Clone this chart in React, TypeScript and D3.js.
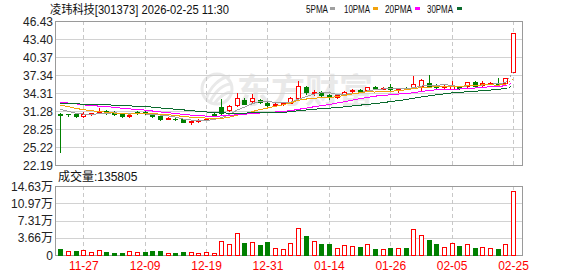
import React from "react";
import * as d3 from "d3";

// ---- data ----
const dates = [
  "11-24","11-25","11-26","11-27","11-28","12-01","12-02","12-03","12-04","12-05",
  "12-08","12-09","12-10","12-11","12-12","12-15","12-16","12-17","12-18","12-19",
  "12-22","12-23","12-24","12-25","12-26","12-29","12-30","12-31","01-05","01-06",
  "01-07","01-08","01-09","01-12","01-13","01-14","01-15","01-16","01-19","01-20",
  "01-21","01-22","01-23","01-26","01-27","01-28","01-29","01-30","02-02","02-03",
  "02-04","02-05","02-06","02-09","02-10","02-11","02-12","02-13","02-24","02-25",
];
const opens = [
  30.85,30.72,30.75,30.45,30.85,31.05,31.2,30.95,30.75,30.45,
  31.15,31.1,30.9,30.43,30.0,29.95,29.88,29.5,29.6,29.8,
  30.8,31.95,31.5,32.3,33.13,33.0,33.13,32.7,32.3,32.42,
  32.7,33.55,35.37,34.35,34.45,33.97,33.6,34.15,34.7,34.8,
  34.75,35.4,35.05,35.37,35.0,35.12,35.2,35.45,36.0,35.4,
  35.33,35.0,35.3,35.45,36.15,35.6,36.0,35.85,36.04,37.79,
];
const highs = [
  30.95,30.85,31.0,31.1,31.0,31.75,31.4,31.3,30.85,30.75,
  31.35,31.3,31.0,30.5,30.3,30.15,29.95,29.7,29.95,30.1,
  30.95,33.25,32.3,34.26,33.5,34.1,33.3,32.85,32.65,32.7,
  33.65,36.35,35.5,34.75,34.6,34.2,34.2,34.6,35.05,35.0,
  35.4,35.5,35.3,35.8,35.2,35.3,37.17,36.6,37.3,35.9,
  35.7,36.33,35.4,36.2,36.25,36.3,36.2,36.8,36.85,44.36,
];
const lows = [
  24.3,30.45,30.3,30.25,30.65,31.0,30.85,30.6,30.2,30.25,
  30.85,30.8,30.35,29.8,29.85,29.75,29.35,29.05,29.45,29.7,
  30.4,30.8,31.2,32.2,32.4,32.7,32.7,32.1,32.2,32.3,
  32.55,33.3,34.2,34.0,33.7,33.3,33.4,34.0,34.4,34.4,
  34.6,34.9,34.9,34.85,34.4,34.9,35.1,34.8,35.4,35.2,
  35.1,34.9,35.0,35.35,35.5,35.45,35.8,35.6,35.95,37.79,
];
const closes = [
  30.6,30.7,30.4,30.8,30.95,31.3,31.0,30.8,30.45,30.65,
  31.05,31.0,30.43,29.88,30.05,29.9,29.43,29.55,29.7,29.9,
  30.6,30.95,32.2,33.4,32.5,33.5,32.8,32.27,32.5,32.6,
  33.47,35.45,34.4,34.5,33.95,33.6,34.05,34.5,34.8,34.65,
  35.3,35.0,35.15,34.95,35.1,35.0,35.8,36.5,35.45,35.33,
  35.38,35.42,35.2,36.1,35.55,35.95,36.05,35.8,36.78,44.36,
];
// closes before the window, implied by where the MA lines start
const priorCloses = [
  31.6,31.9,32.4,32.1,31.8,32.5,32.9,32.6,32.3,32.2,
  32.8,33.4,33.9,33.5,33.1,32.7,33.2,33.6,33.0,32.7,
  33.3,33.4,32.9,32.8,32.6,32.3,32.0,31.6,31.3,
];
const volumes = [
  12700,8500,9200,10600,6400,10600,6400,4200,4200,8500,
  6400,7100,9200,9200,4200,4200,7100,6400,4200,6400,
  4200,29700,23300,45900,25400,27600,21200,28300,14200,12700,
  25500,56500,40300,29700,23300,23300,14200,20500,18400,17000,
  22600,12700,12000,14800,14200,14800,54400,41700,31800,23300,
  17000,25400,19100,22600,14800,16300,14200,12700,22600,135805,
];
const priceTicks = [22.19,25.22,28.25,31.28,34.31,37.34,40.37,43.40,46.43];
const volTicks = [0,36575,73150,109725,146300];
const volTickLabels = ["0","3.66万","7.31万","10.97万","14.63万"];
const labelIdx = [3,11,19,27,35,43,51,59];
const maPeriods = [5,10,20,30];
const maColors = ["#a0a0a0","#f2a20c","#ff00ff","#0b6b2e"];
const maNames = ["5PMA","10PMA","20PMA","30PMA"];

const RED = "#ff0000";
const GREEN = "#008000";
const FONT = "'Liberation Sans','Noto Sans CJK SC',sans-serif";

export default function App() {
  const L = 55, R = 522, PT = 21, PB = 165, VT = 186, VB = 255;
  const x = d3.scaleLinear().domain([0, closes.length - 1]).range([60.3, 513]);
  const yP = d3.scaleLinear().domain([priceTicks[0], priceTicks[priceTicks.length - 1]]).range([PB, PT]);
  const yV = d3.scaleLinear().domain([0, volTicks[volTicks.length - 1]]).range([VB, VT]);

  const all = priorCloses.concat(closes);
  const k = priorCloses.length;
  const mas = maPeriods.map((n) =>
    closes.map((_, i) => d3.mean(all.slice(k + i - n + 1, k + i + 1)) as number)
  );
  const line = d3.line<number>().x((_, i) => x(i)).y((v) => yP(v));
  const lineOff = (off: number) => d3.line<number>().x((_, i) => x(i + off)).y((v) => yP(v));
  const last = closes.length - 1;

  return (
    <svg width={578} height={276} style={{ position: "absolute", left: 0, top: 0, background: "#fff" }}
      fontFamily={FONT}>
      <rect x={0} y={0} width={578} height={276} fill="#fff" />
      {/* watermark */}
      <g>
        <circle cx={217} cy={89} r={15} fill="none" stroke="#e9e9e9" strokeWidth={3} />
        <path d="M206,100 C210,86 220,78 230,76 M210,102 C216,90 224,84 232,84 M214,104 C220,96 226,92 232,92"
          fill="none" stroke="#e9e9e9" strokeWidth={3} />
        <text x={237} y={103} fontSize={34} fontWeight="bold" fill="#e9e9e9"
          fontFamily="'Noto Sans CJK SC',sans-serif" textLength={136} lengthAdjust="spacingAndGlyphs">东方财富</text>
      </g>
      {/* grid */}
      {priceTicks.slice(1, -1).map((t) => (
        <line key={"pg" + t} x1={L} x2={R} y1={Math.round(yP(t)) + 0.5} y2={Math.round(yP(t)) + 0.5}
          stroke="#d2d2d2" />
      ))}
      {volTicks.slice(1, -1).map((t) => (
        <line key={"vg" + t} x1={L} x2={R} y1={Math.round(yV(t)) + 0.5} y2={Math.round(yV(t)) + 0.5}
          stroke="#d2d2d2" />
      ))}
      {labelIdx.map((i) => {
        const cx = Math.round(x(i)) + 0.5;
        return (
          <g key={"vl" + i} stroke="#c8c8c8" strokeDasharray="4,3">
            <line x1={cx} x2={cx} y1={PT} y2={PB} />
            <line x1={cx} x2={cx} y1={VT} y2={VB} />
          </g>
        );
      })}
      {/* frames */}
      <rect x={L + 0.5} y={PT + 0.5} width={R - L} height={PB - PT} fill="none" stroke="#9a9a9a" />
      <rect x={L + 0.5} y={VT + 0.5} width={R - L} height={VB - VT} fill="none" stroke="#9a9a9a" />
      {/* candles */}
      {closes.map((c, i) => {
        const o = opens[i];
        const cx = Math.round(x(i));
        const up = c >= o;
        const col = up ? RED : GREEN;
        const yH = Math.round(yP(highs[i]));
        const yL = Math.round(yP(lows[i]));
        const yTop = Math.round(yP(Math.max(o, c)));
        const yBot = Math.round(yP(Math.min(o, c)));
        const bh = yBot - yTop;
        return (
          <g key={"c" + i}>
            <rect x={cx} y={yH} width={1} height={Math.max(1, yL - yH + 1)} fill={col} />
            {bh < 1 ? (
              <rect x={cx - 2} y={yTop} width={5} height={1} fill={col} />
            ) : up ? (
              <rect x={cx - 1.5} y={yTop + 0.5} width={4} height={bh} fill="#fff" stroke={col} />
            ) : (
              <rect x={cx - 2} y={yTop} width={5} height={bh + 1} fill={col} />
            )}
          </g>
        );
      })}
      {/* moving averages */}
      {mas.map((m, j) => (
        <g key={"ma" + j} fill="none" stroke={maColors[j]} strokeWidth={1} shapeRendering="crispEdges">
          <path d={line(m.slice(0, last)) || ""} />
          <path d={lineOff(last - 1)(m.slice(last - 1)) || ""} strokeDasharray="2,2" />
        </g>
      ))}
      {/* volume bars */}
      {volumes.map((v, i) => {
        const cx = Math.round(x(i));
        const up = i === 0 ? closes[i] >= opens[i] : closes[i] > closes[i - 1];
        const yT = Math.round(yV(v));
        return up ? (
          <rect key={"v" + i} x={cx - 1.5} y={yT + 0.5} width={4} height={VB - yT} fill="#fff" stroke={RED} />
        ) : (
          <rect key={"v" + i} x={cx - 2} y={yT} width={5} height={VB - yT + 1} fill={GREEN} />
        );
      })}
      {/* axis labels */}
      {priceTicks.map((t) => (
        <text key={"pt" + t} x={53} y={yP(t) + 4.5} textAnchor="end" fontSize={12} fill="#222">
          {t.toFixed(2)}
        </text>
      ))}
      {volTicks.map((t, i) => (
        <text key={"vt" + t} x={53} y={yV(t) + 4.5} textAnchor="end" fontSize={12} fill="#222">
          {volTickLabels[i]}
        </text>
      ))}
      {labelIdx.map((i) => (
        <text key={"xl" + i} x={x(i) + 0.5} y={270} textAnchor="middle" fontSize={12} fill={RED}>
          {dates[i]}
        </text>
      ))}
      {/* title + legend */}
      <text x={50} y={14} fontSize={12} fill="#111" textLength={179} lengthAdjust="spacingAndGlyphs">
        凌玮科技[301373] 2026-02-25 11:30
      </text>
      {maNames.map((n, j) => {
        const tx = [306, 344, 385, 427][j];
        const tw = [22, 26, 27, 26][j];
        const sx = [330, 373, 415, 457][j];
        return (
          <g key={"lg" + j}>
            <text x={tx} y={13} fontSize={11} fill="#111" textLength={tw} lengthAdjust="spacingAndGlyphs">{n}</text>
            <rect x={sx} y={7} width={5} height={3} fill={maColors[j]} />
          </g>
        );
      })}
      <text x={58} y={181} fontSize={12} fill="#111">成交量:{volumes[last]}</text>
    </svg>
  );
}
